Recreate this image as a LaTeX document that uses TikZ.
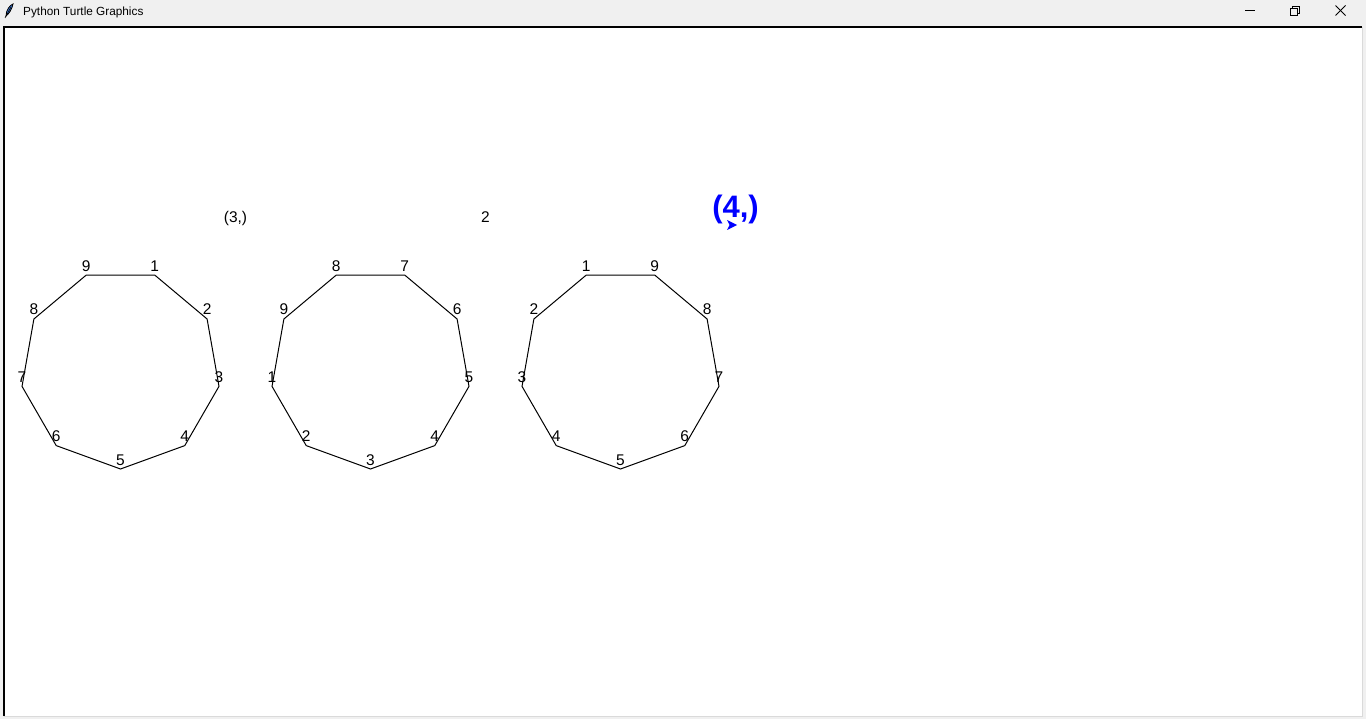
\documentclass[tikz,border=0pt]{standalone}
\usepackage{fontspec}
\setmainfont{Liberation Sans}
\definecolor{winbg}{HTML}{F0F0F0}
\definecolor{winedge}{HTML}{DADADA}
\definecolor{turtleblue}{RGB}{0,0,255}
\definecolor{feather}{HTML}{3A78D8}
\tikzset{
  lbl/.style={inner sep=0pt, anchor=base, font=\fontsize{15.5}{18}\selectfont},
  edge/.style={line width=1pt, line join=miter},
  ttl/.style={inner sep=0pt, anchor=base west, font=\fontsize{11.8}{14}\selectfont},
  btn/.style={line width=1pt},
}
\begin{document}
\begin{tikzpicture}[x=1pt,y=-1pt]
\useasboundingbox (0,0) rectangle (1366,719);
% window background
\fill[winbg] (0,0) rectangle (1366,719);
% canvas
\fill[white] (4,27) rectangle (1362,716);
\draw[winedge, line width=1pt] (1362.5,27) -- (1362.5,716.5) -- (4,716.5);
\draw[black, line width=2pt] (3.5,716) -- (3.5,27) -- (1362,27);
% title bar
\node[ttl] (title) at (23,16) {Python Turtle Graphics};
\fill[feather] (6,16) .. controls (6,10) and (10,5) .. (13,4) .. controls (12,9) and (9,14) .. (6,16) -- cycle;
\draw[black, line width=0.8pt] (6,16) .. controls (6,10) and (10,5) .. (13,4) .. controls (12,9) and (9,14) .. (6,16) -- cycle;
\draw[black, line width=0.6pt] (5,18) -- (11,7);
% buttons
\draw[btn] (1245,10.5) -- (1255,10.5);
\draw[btn] (1290.5,8.5) rectangle (1297.5,15.5);
\draw[btn] (1292.5,8) -- (1292.5,6.5) -- (1299.5,6.5) -- (1299.5,13.5) -- (1298,13.5);
\draw[btn] (1335.5,5.5) -- (1345.5,15.5);
\draw[btn] (1345.5,5.5) -- (1335.5,15.5);
% polygon centres
\coordinate (cA) at (120.5,369);
\coordinate (cB) at (370.5,369);
\coordinate (cC) at (620.5,369);
\foreach \k in {1,...,9} {
  \coordinate (A\k) at ([shift={({70-40*(\k-1)}:100pt)}]cA);
  \coordinate (B\k) at ([shift={({190+40*(\k-1)}:100pt)}]cB);
  \coordinate (C\k) at ([shift={({110+40*(\k-1)}:100pt)}]cC);
}
\draw[edge] (A1) -- (A2) -- (A3) -- (A4) -- (A5) -- (A6) -- (A7) -- (A8) -- (A9) -- cycle;
\draw[edge] (B1) -- (B2) -- (B3) -- (B4) -- (B5) -- (B6) -- (B7) -- (B8) -- (B9) -- cycle;
\draw[edge] (C1) -- (C2) -- (C3) -- (C4) -- (C5) -- (C6) -- (C7) -- (C8) -- (C9) -- cycle;
\foreach \k in {1,...,9} {
  \node[lbl] (LA\k) at ([yshift=4pt]A\k) {\k};
  \node[lbl] (LB\k) at ([yshift=4pt]B\k) {\k};
  \node[lbl] (LC\k) at ([yshift=4pt]C\k) {\k};
}
% texts
\node[lbl] (t1) at (235.5,222.5) {(3,)};
\node[lbl] (t2) at (485.5,222.5) {2};
\node[inner sep=0pt, anchor=base, text=turtleblue, font=\fontsize{31}{36}\selectfont\bfseries] (t3) at (735.5,218) {(4,)};
% turtle
\coordinate (turtle) at (737,225);
\fill[turtleblue] (turtle) -- (727,220) -- (729.5,225) -- (727,230) -- cycle;
\end{tikzpicture}
\end{document}
